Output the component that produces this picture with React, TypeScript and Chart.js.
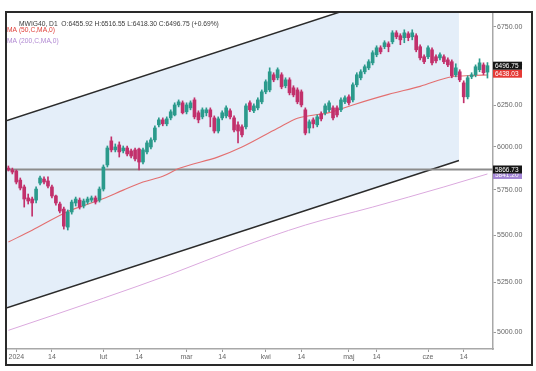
import React, { useEffect, useRef } from "react";
import { Chart, registerables } from "chart.js";

Chart.register(...registerables);

// Trading-day index of the first candle (two December sessions before 2 Jan 2024)
const FIRST_DAY = -2;

const opens = [
  5875, 5864, 5858, 5806, 5767, 5705, 5699, 5693, 5789, 5812, 5801, 5767, 5716, 5671, 5643, 5544,
  5627, 5677, 5693, 5660, 5682, 5693, 5705, 5693, 5755, 5893, 6034, 5981, 6010, 5975, 5992, 5975,
  5981, 5986, 5910, 5969, 5998, 6040, 6130, 6160, 6136, 6172, 6190, 6251, 6264, 6209, 6233, 6282,
  6203, 6178, 6203, 6221, 6172, 6093, 6172, 6184, 6215, 6172, 6130, 6118, 6118, 6264, 6215, 6233,
  6270, 6332, 6344, 6439, 6420, 6439, 6370, 6407, 6357, 6344, 6332, 6221, 6111, 6160, 6130, 6196,
  6203, 6221, 6233, 6233, 6221, 6270, 6301, 6282, 6376, 6420, 6458, 6483, 6515, 6567, 6612, 6619,
  6638, 6651, 6710, 6691, 6678, 6704, 6684, 6691, 6619, 6554, 6554, 6599, 6554, 6547, 6554, 6534,
  6522, 6439, 6458, 6388, 6301, 6426, 6439, 6471, 6502, 6455.92,
];
const highs = [
  5887, 5875, 5864, 5818, 5778, 5727, 5710, 5767, 5829, 5824, 5824, 5778, 5721, 5682, 5654, 5638,
  5693, 5710, 5705, 5699, 5710, 5716, 5716, 5767, 5893, 6004, 6058, 6016, 6028, 6004, 6004, 5986,
  5992, 5992, 5992, 6034, 6052, 6124, 6172, 6172, 6178, 6221, 6264, 6282, 6276, 6264, 6276, 6295,
  6215, 6233, 6233, 6233, 6184, 6178, 6215, 6245, 6227, 6184, 6148, 6130, 6258, 6276, 6258, 6295,
  6344, 6407, 6483, 6452, 6483, 6452, 6420, 6420, 6370, 6357, 6344, 6233, 6160, 6172, 6190, 6209,
  6258, 6276, 6245, 6245, 6295, 6307, 6313, 6388, 6452, 6471, 6502, 6535, 6593, 6625, 6625, 6658,
  6651, 6724, 6724, 6704, 6730, 6717, 6730, 6704, 6632, 6567, 6625, 6612, 6567, 6580, 6567, 6547,
  6534, 6509, 6471, 6401, 6433, 6452, 6502, 6541, 6515, 6516.55,
];
const lows = [
  5858, 5841, 5784, 5750, 5654, 5671, 5604, 5677, 5778, 5784, 5761, 5705, 5665, 5621, 5533, 5528,
  5615, 5660, 5643, 5649, 5671, 5682, 5671, 5682, 5744, 5881, 5969, 5969, 5939, 5963, 5945, 5934,
  5916, 5864, 5899, 5957, 5986, 6028, 6118, 6124, 6124, 6160, 6184, 6239, 6196, 6196, 6221, 6166,
  6142, 6166, 6184, 6118, 6081, 6081, 6160, 6172, 6166, 6087, 6022, 6058, 6105, 6209, 6203, 6221,
  6258, 6320, 6332, 6395, 6407, 6351, 6357, 6313, 6301, 6258, 6239, 6070, 6081, 6111, 6118, 6154,
  6190, 6209, 6160, 6178, 6209, 6258, 6251, 6270, 6363, 6407, 6445, 6471, 6502, 6554, 6573, 6606,
  6586, 6638, 6671, 6632, 6645, 6658, 6664, 6586, 6534, 6509, 6541, 6502, 6515, 6534, 6509, 6490,
  6420, 6426, 6395, 6264, 6288, 6414, 6426, 6458, 6439, 6418.3,
];
const closes = [
  5864, 5852, 5795, 5761, 5699, 5688, 5677, 5755, 5818, 5795, 5772, 5716, 5677, 5632, 5549, 5627,
  5682, 5699, 5654, 5688, 5699, 5705, 5682, 5755, 5881, 5992, 5981, 5998, 5969, 5992, 5957, 5945,
  5928, 5910, 5981, 6022, 6040, 6111, 6160, 6136, 6166, 6209, 6251, 6270, 6203, 6251, 6264, 6178,
  6160, 6221, 6221, 6178, 6093, 6166, 6203, 6233, 6178, 6099, 6093, 6070, 6245, 6221, 6245, 6282,
  6332, 6395, 6458, 6407, 6471, 6363, 6407, 6326, 6313, 6270, 6251, 6081, 6148, 6136, 6178, 6166,
  6245, 6264, 6172, 6190, 6282, 6295, 6264, 6376, 6439, 6458, 6490, 6522, 6580, 6612, 6586, 6645,
  6619, 6710, 6684, 6664, 6710, 6678, 6710, 6599, 6547, 6522, 6612, 6515, 6528, 6567, 6522, 6502,
  6433, 6483, 6407, 6301, 6420, 6439, 6490, 6515, 6452, 6496.75,
];

const xTickDays = [0, 9, 22, 31, 43, 52, 63, 72, 84, 91, 104, 113];
const xTickLabels = ["2024", "14", "lut", "14", "mar", "14", "kwi", "14", "maj", "14", "cze", "14"];
const yTickValues = [5000, 5250, 5500, 5750, 6000, 6250, 6500, 6750];

const ma50Days = [-2, 4, 13, 16, 21, 27, 32, 37, 41, 51, 57, 66, 71, 74, 79, 85, 94, 102, 110, 115, 119];
const ma50Values = [5463, 5527, 5630, 5655, 5693, 5749, 5795, 5828, 5872, 5940, 5998, 6110, 6170, 6185, 6204, 6251, 6316, 6366, 6427, 6434, 6438];
const ma200Days = [-2, 22, 39, 56, 73, 90, 108, 119];
const ma200Values = [5009, 5170, 5293, 5430, 5555, 5654, 5767, 5841];

const channelDays = [-2.35, 111.8];
const channelUpper = [6156, 7115];
const channelLower = [5121, 5919];
const levelValue = 5866.73;

const X_MIN = -2.35;
const X_MAX = 120.4;
const Y_MIN = 4918;
const Y_MAX = 6842;

const headerText = "MWIG40, D1  O:6455.92 H:6516.55 L:6418.30 C:6496.75 (+0.69%)";
const ma50Legend = "MA (50,C,MA,0)";
const ma200Legend = "MA (200,C,MA,0)";
const ma50Label = "6438.03";
const ma200Label = "5841.20";

const UP = "#2b9a8c";
const DOWN = "#c2306b";
const FONT = "'Liberation Sans', Arial, sans-serif";

export default function App() {
  const ref = useRef<HTMLCanvasElement | null>(null);

  useEffect(() => {
    if (!ref.current) return;
    const days = closes.map((_, i) => i + FIRST_DAY);
    const colors = closes.map((c, i) => (c >= opens[i] ? UP : DOWN));
    const wickData = days.map((d, i) => ({ x: d, y: [lows[i], highs[i]] }));
    const bodyData = days.map((d, i) => ({
      x: d,
      y: [Math.min(opens[i], closes[i]), Math.max(opens[i], closes[i])],
    }));
    const lastClose = closes[closes.length - 1];

    const overlay = {
      id: "overlay",
      afterDraw(chart: any) {
        const ctx = chart.ctx as CanvasRenderingContext2D;
        const ys = chart.scales.y;
        const area = chart.chartArea;
        ctx.save();
        // price labels on the right axis
        const boxX = area.right;
        const boxW = 29;
        const boxH = 8;
        const drawBox = (cy: number, bg: string, text: string) => {
          ctx.fillStyle = bg;
          ctx.fillRect(boxX, cy - boxH / 2, boxW, boxH);
          ctx.fillStyle = "#ffffff";
          ctx.font = `6.5px ${FONT}`;
          ctx.textBaseline = "middle";
          ctx.textAlign = "left";
          ctx.fillText(text, boxX + 2, cy + 0.5);
        };
        const closeY = ys.getPixelForValue(lastClose);
        drawBox(ys.getPixelForValue(ma200Values[ma200Values.length - 1]) + 1, "#a486d6", ma200Label);
        drawBox(ys.getPixelForValue(levelValue), "#161616", levelValue.toFixed(2));
        drawBox(closeY + boxH, "#e53935", ma50Label);
        drawBox(closeY, "#161616", lastClose.toFixed(2));

        // legend texts
        ctx.textAlign = "left";
        ctx.textBaseline = "middle";
        ctx.font = `6.7px ${FONT}`;
        ctx.fillStyle = "#3a3a3a";
        ctx.fillText(headerText, 19, 24);
        ctx.fillStyle = "#e0403a";
        ctx.fillText(ma50Legend, 7, 30);
        ctx.fillStyle = "#b088d2";
        ctx.fillText(ma200Legend, 7, 41);

        // outer frame
        ctx.strokeStyle = "#2a2a2a";
        ctx.lineWidth = 2;
        ctx.strokeRect(6, 12, 526, 353);
        ctx.restore();
      },
    };

    const chart = new Chart(ref.current, {
      type: "bar",
      data: {
        datasets: [
          {
            type: "line",
            data: channelDays.map((d, i) => ({ x: d, y: channelLower[i] })),
            borderColor: "#2b2b2b",
            borderWidth: 1.5,
            pointRadius: 0,
            fill: false,
            order: 10,
          } as any,
          {
            type: "line",
            data: channelDays.map((d, i) => ({ x: d, y: channelUpper[i] })),
            borderColor: "#2b2b2b",
            borderWidth: 1.5,
            pointRadius: 0,
            fill: "-1",
            backgroundColor: "#e4eef9",
            order: 10,
          } as any,
          {
            type: "line",
            data: [
              { x: X_MIN, y: levelValue },
              { x: X_MAX, y: levelValue },
            ],
            borderColor: "#8c8c8c",
            borderWidth: 2,
            pointRadius: 0,
            fill: false,
            order: 9,
          } as any,
          {
            type: "line",
            data: ma200Days.map((d, i) => ({ x: d, y: ma200Values[i] })),
            borderColor: "#dba9de",
            borderWidth: 1,
            pointRadius: 0,
            cubicInterpolationMode: "monotone",
            fill: false,
            order: 8,
          } as any,
          {
            type: "line",
            data: ma50Days.map((d, i) => ({ x: d, y: ma50Values[i] })),
            borderColor: "#e36f70",
            borderWidth: 1.1,
            pointRadius: 0,
            cubicInterpolationMode: "monotone",
            fill: false,
            order: 7,
          } as any,
          {
            type: "bar",
            data: wickData,
            backgroundColor: colors,
            barThickness: 1,
            grouped: false,
            borderWidth: 0,
            order: 2,
          } as any,
          {
            type: "bar",
            data: bodyData,
            backgroundColor: colors,
            barThickness: 3,
            grouped: false,
            borderWidth: 0,
            minBarLength: 1,
            order: 1,
          } as any,
        ],
      },
      options: {
        responsive: false,
        maintainAspectRatio: false,
        devicePixelRatio: 1,
        animation: false,
        layout: { padding: { left: 7, top: 13, right: 0, bottom: 0 } },
        plugins: {
          legend: { display: false },
          tooltip: { enabled: false },
        },
        scales: {
          x: {
            type: "linear",
            min: X_MIN,
            max: X_MAX,
            bounds: "data",
            offset: false,
            grid: {
              display: true,
              offset: false,
              drawOnChartArea: false,
              drawTicks: true,
              tickLength: 3,
              color: "#9a9a9a",
            },
            border: { display: true, color: "#a8a8a8", width: 1.5 },
            ticks: {
              autoSkip: false,
              maxRotation: 0,
              padding: 1,
              color: "#666666",
              font: { size: 7, family: FONT },
              callback: (v: any) => {
                const k = xTickDays.indexOf(Number(v));
                return k >= 0 ? xTickLabels[k] : "";
              },
            },
            afterBuildTicks: (s: any) => {
              s.ticks = xTickDays.map((v) => ({ value: v }));
            },
            afterFit: (s: any) => {
              s.height = 22;
            },
          } as any,
          y: {
            type: "logarithmic",
            position: "right",
            min: Y_MIN,
            max: Y_MAX,
            bounds: "data",
            grid: {
              display: true,
              drawOnChartArea: false,
              drawTicks: true,
              tickLength: 3,
              color: "#9a9a9a",
            },
            border: { display: true, color: "#a8a8a8", width: 1.5 },
            ticks: {
              autoSkip: false,
              padding: 1,
              color: "#666666",
              font: { size: 7, family: FONT },
              callback: (v: any) => Number(v).toFixed(2),
            },
            afterBuildTicks: (s: any) => {
              s.ticks = yTickValues.map((v) => ({ value: v }));
            },
            afterFit: (s: any) => {
              s.width = 43;
            },
          } as any,
        },
      },
      plugins: [overlay],
    } as any);

    return () => {
      chart.destroy();
    };
  }, []);

  return (
    <div
      style={{
        position: "fixed",
        left: 0,
        top: 0,
        width: 536,
        height: 371,
        background: "#ffffff",
      }}
    >
      <canvas ref={ref} width={536} height={371} style={{ display: "block", width: 536, height: 371 }} />
    </div>
  );
}
